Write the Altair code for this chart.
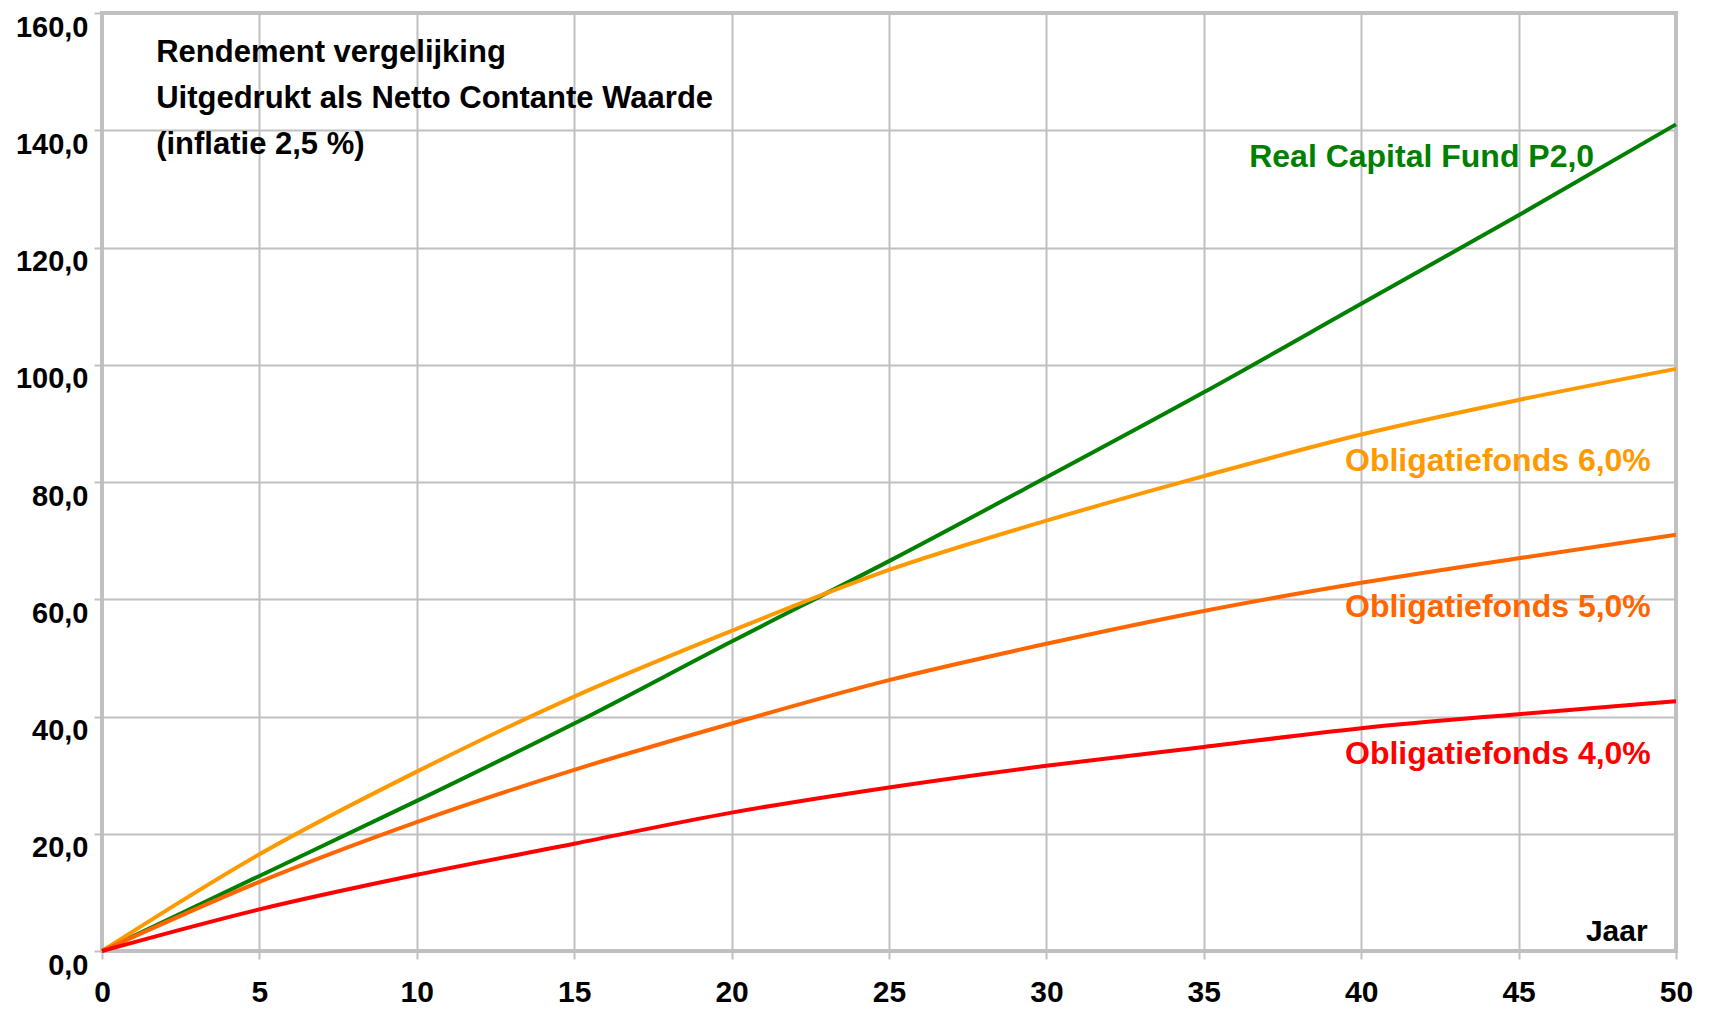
import altair as alt
import pandas as pd

# ---- data ----
years = [0, 5, 10, 15, 20, 25, 30, 35, 40, 45, 50]
real_capital = [0, 12.8, 25.6, 38.8, 52.8, 66.5, 80.8, 95.3, 110.4, 125.5, 141.0]
oblig_6 = [0, 16.5, 30.6, 43.4, 54.6, 65.0, 73.4, 81.0, 88.1, 94.0, 99.3]
oblig_5 = [0, 11.8, 22.0, 30.9, 38.8, 46.2, 52.4, 58.0, 62.8, 67.0, 71.0]
oblig_4 = [0, 7.1, 13.0, 18.3, 23.6, 27.9, 31.6, 34.8, 38.0, 40.4, 42.6]

series_names = ["Real Capital Fund P2,0", "Obligatiefonds 6,0%",
                "Obligatiefonds 5,0%", "Obligatiefonds 4,0%"]
series_colors = ["#008000", "#FF9900", "#FF6600", "#FF0000"]

x_ticks = [0, 5, 10, 15, 20, 25, 30, 35, 40, 45, 50]
y_ticks = [0, 20, 40, 60, 80, 100, 120, 140, 160]

title_text = "Rendement vergelijking\nUitgedrukt als Netto Contante Waarde\n(inflatie 2,5 %)"
x_title = "Jaar"

# label anchor points (in data units)
label_x = [47.4, 49.2, 49.2, 49.2]
label_y = [133.7, 81.9, 57.0, 31.9]

rows = []
for name, vals in zip(series_names, [real_capital, oblig_6, oblig_5, oblig_4]):
    for yr, v in zip(years, vals):
        rows.append({"Jaar": yr, "Waarde": v, "Reeks": name})
df = pd.DataFrame(rows)

labels_df = pd.DataFrame({"Jaar": label_x, "Waarde": label_y, "Reeks": series_names})

x_scale = alt.Scale(domain=[0, 50], nice=False)
y_scale = alt.Scale(domain=[0, 160], nice=False)
color_scale = alt.Scale(domain=series_names, range=series_colors)

FONT = "Liberation Sans"

lines = alt.Chart(df).mark_line(strokeWidth=4, interpolate="monotone").encode(
    x=alt.X("Jaar:Q", scale=x_scale,
            axis=alt.Axis(values=x_ticks, title=None, labelFlush=False,
                          labelOverlap=False, labelPadding=18, labelFontSize=30,
                          format="d")),
    y=alt.Y("Waarde:Q", scale=y_scale,
            axis=alt.Axis(values=y_ticks, title=None, labelBaseline="top",
                          labelOverlap=False, labelPadding=6,
                          labelExpr="replace(format(datum.value, '.1f'), '.', ',')")),
    color=alt.Color("Reeks:N", scale=color_scale, legend=None),
)

series_labels = alt.Chart(labels_df).mark_text(
    align="right", baseline="alphabetic", fontSize=32, fontWeight="bold", font=FONT
).encode(
    x=alt.X("Jaar:Q", scale=x_scale),
    y=alt.Y("Waarde:Q", scale=y_scale),
    text="Reeks:N",
    color=alt.Color("Reeks:N", scale=color_scale, legend=None),
)

title = alt.Chart(pd.DataFrame({"t": [title_text]})).mark_text(
    align="left", baseline="alphabetic", fontSize=31, fontWeight="bold", font=FONT,
    lineBreak="\n", lineHeight=46, color="black"
).encode(
    x=alt.datum(1.72),
    y=alt.datum(151.6),
    text="t:N",
)

jaar = alt.Chart(pd.DataFrame({"t": [x_title]})).mark_text(
    align="right", baseline="alphabetic", fontSize=30, fontWeight="bold", font=FONT,
    color="black"
).encode(
    x=alt.datum(49.1),
    y=alt.datum(1.76),
    text="t:N",
)

chart = alt.layer(lines, series_labels, title, jaar).properties(
    width=1574, height=938,
    autosize=alt.AutoSizeParams(type="none"),
    padding={"left": 94, "top": 5, "right": 30, "bottom": 60},
    background="white",
).configure_view(
    stroke="#c0c0c0", strokeWidth=4
).configure_axis(
    grid=True, gridColor="#c0c0c0", gridWidth=2,
    domain=False, tickColor="#c0c0c0", tickWidth=2, tickSize=8,
    labelFont=FONT, labelFontWeight="bold", labelFontSize=29, labelColor="black",
)

chart.save("out.html", embed_options={"renderer": "svg", "actions": False})
